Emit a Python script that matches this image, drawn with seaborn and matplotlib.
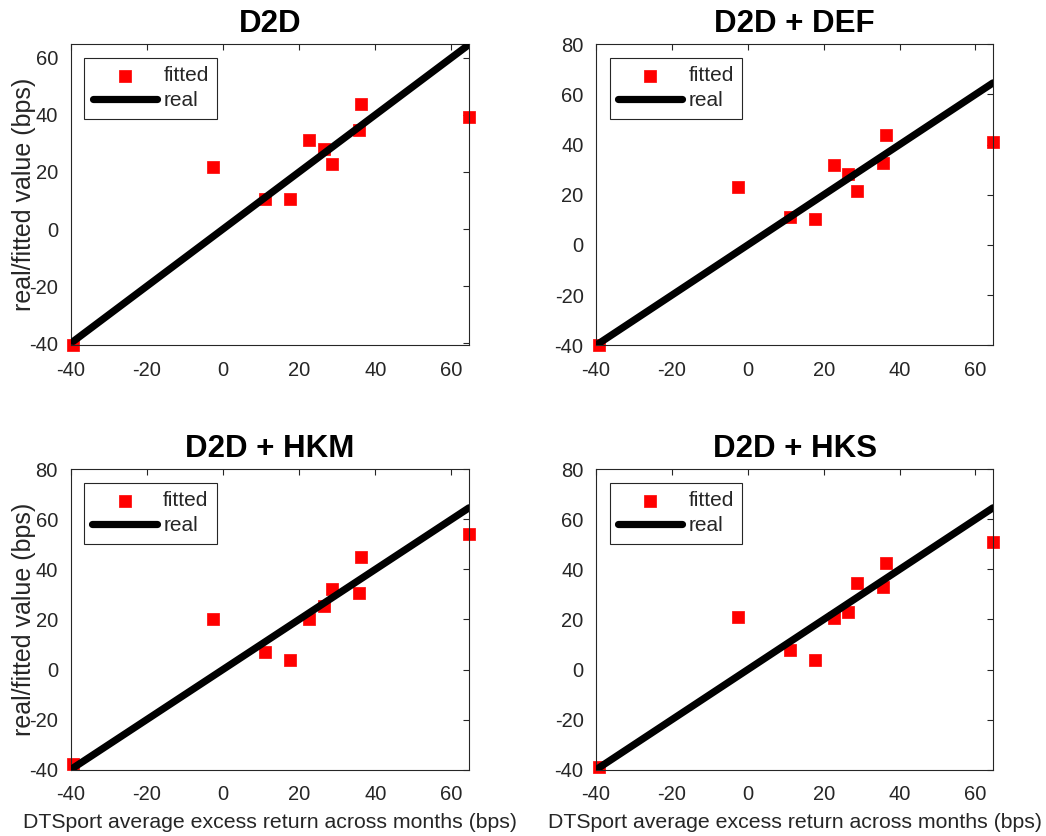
# Real vs fitted excess returns, 2x2 panels
import numpy as np
import pandas as pd
import seaborn as sns
import matplotlib.pyplot as plt

# real DTSport average excess return (bps) - also the 45 degree line
real = [-39.3, -2.7, 11.0, 17.7, 22.7, 26.5, 28.7, 35.7, 36.3, 64.6]

# fitted values for each model
fit_d2d = [-40.7, 21.8, 10.4, 10.6, 31.2, 27.9, 22.9, 34.7, 43.9, 39.1]
fit_def = [-40.0, 23.0, 11.3, 10.5, 31.9, 28.2, 21.4, 32.8, 44.0, 41.2]
fit_hkm = [-37.9, 20.0, 6.9, 3.9, 20.0, 25.2, 32.0, 30.7, 45.1, 54.0]
fit_hks = [-38.9, 21.1, 8.0, 3.7, 20.7, 22.8, 34.4, 33.1, 42.7, 51.1]

titles = ['D2D', 'D2D + DEF', 'D2D + HKM', 'D2D + HKS']
fits = [fit_d2d, fit_def, fit_hkm, fit_hks]
ylims = [(-40.7, 64.7), (-40, 80), (-40, 80), (-40, 80)]
yticks = [[-40, -20, 0, 20, 40, 60]] + [[-40, -20, 0, 20, 40, 60, 80]] * 3
xticks = [-40, -20, 0, 20, 40, 60]

sns.set_style('white')
plt.rcParams['font.family'] = ['Liberation Sans', 'DejaVu Sans']
plt.rcParams['axes.unicode_minus'] = False
grey = '#262626'

fig = plt.figure(figsize=(10.46, 8.36), dpi=100)
W, H = 1046, 836
# axes boxes in pixels: left, top, right, bottom
boxes = [(70.7, 44.3, 469.3, 345.3), (596, 44.3, 993.3, 345.3),
         (70.5, 469.3, 469.3, 769.7), (596, 469.3, 993.3, 769.7)]

for i, (l, t, r, b) in enumerate(boxes):
    ax = fig.add_axes([l / W, 1 - b / H, (r - l) / W, (b - t) / H])
    df = pd.DataFrame({'real': real, 'fitted': fits[i]})
    sns.scatterplot(data=df, x='real', y='fitted', marker='s', color='red',
                    edgecolor='red', s=80, linewidth=0.5, label='fitted',
                    ax=ax, clip_on=False, zorder=2)
    sns.lineplot(data=df, x='real', y='real', color='black', linewidth=5.2,
                 label='real', ax=ax, zorder=3)
    ax.set_xlim(-40, 64.7)
    ax.set_ylim(*ylims[i])
    ax.set_xticks(xticks)
    ax.set_yticks(yticks[i])
    ax.tick_params(direction='in', top=True, right=True, length=4, width=0.8,
                   colors=grey, labelsize=14.5)
    ax.tick_params(axis='y', pad=9)
    ax.tick_params(axis='x', pad=11)
    for sp in ax.spines.values():
        sp.set_color(grey)
        sp.set_linewidth(0.8)
    ax.set_title(titles[i], fontsize=22.5, fontweight='bold', color='black', pad=8.7)

    if i % 2 == 0:
        ax.set_ylabel('real/fitted value (bps)', fontsize=18, color=grey)
        ax.yaxis.set_label_coords(-0.087, 0.5)
    else:
        ax.set_ylabel('')
    if i >= 2:
        ax.set_xlabel('DTSport average excess return across months (bps)',
                      fontsize=15.3, color=grey, labelpad=6.5)
    else:
        ax.set_xlabel('')

    leg = ax.legend(loc='upper left', fontsize=15, frameon=True, fancybox=False,
                    framealpha=1, edgecolor=grey, handlelength=3.1,
                    handletextpad=0.3, borderpad=0.4, labelspacing=0.3,
                    borderaxespad=0.65)
    leg.get_frame().set_linewidth(0.8)

fig.savefig('out.png', dpi=100)
